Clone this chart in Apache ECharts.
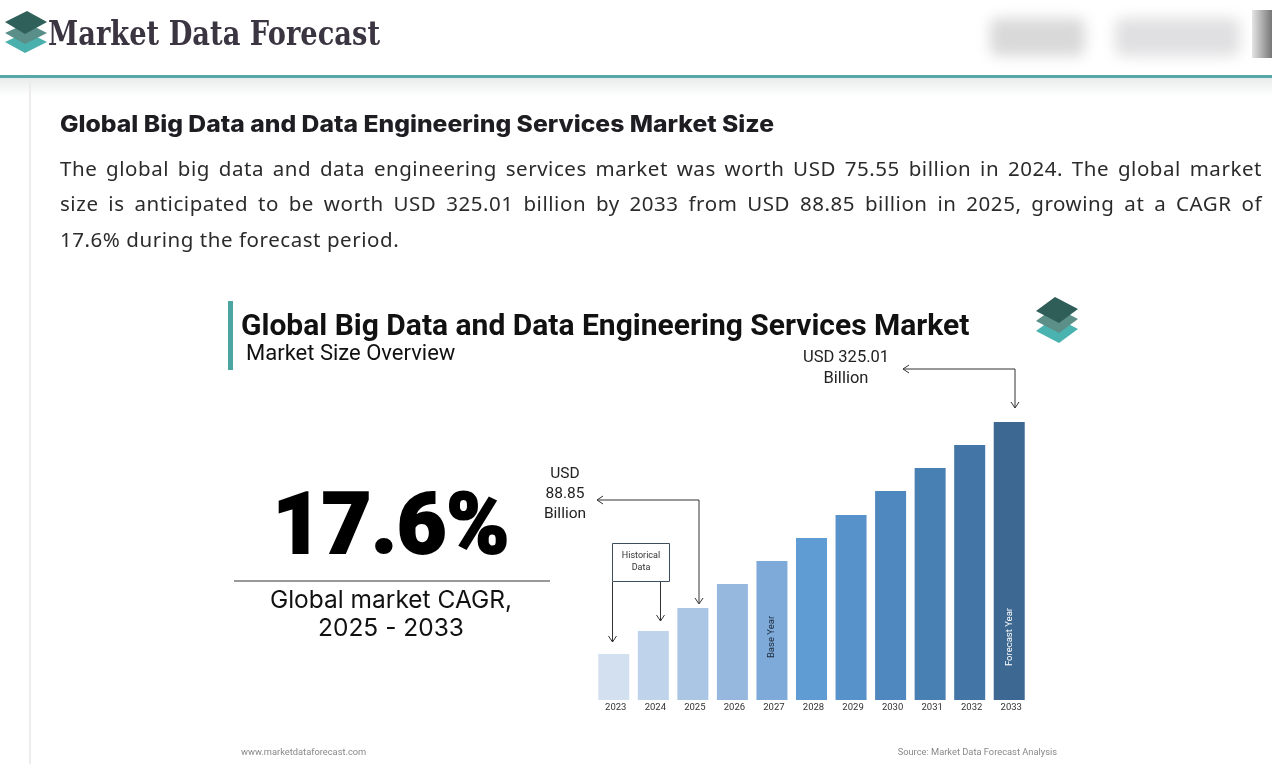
<!DOCTYPE html>
<html>
<head>
<meta charset="utf-8">
<title>Global Big Data and Data Engineering Services Market Size</title>
<script src="https://cdn.jsdelivr.net/npm/echarts@6/dist/echarts.min.js"></script>
<style>
  html, body { margin: 0; padding: 0; background: #fff; }
  body { width: 1272px; height: 764px; position: relative; overflow: hidden; }
  #chart { position: absolute; left: 0; top: 0; width: 1272px; height: 764px; }
  .abs { position: absolute; }
  .fit { transform-origin: 0 50%; white-space: nowrap; }
  #brand { left: 48px; top: 13px; font-family: "DejaVu Serif", serif; font-weight: bold; font-size: 34px; color: #3b3441; }
  #rule { left: 0; top: 75px; width: 1272px; height: 3px; background: #55a7a8; }
  #shade { left: 0; top: 78px; width: 1272px; height: 18px; background: linear-gradient(#e9ebeb, #fff); }
  #side { left: 29px; top: 78px; width: 2px; height: 686px; background: #ececec; }
  .blur { background: #d9d9d9; filter: blur(7px); border-radius: 8px; }
  #heading { left: 60px; top: 110px; font-family: Inter, sans-serif; font-weight: 800; font-size: 22.5px; color: #1d1d22; }
  .para { left: 60px; width: 1202px; font-family: "Noto Sans", sans-serif; font-size: 20.5px; color: #2b2b2b; letter-spacing: 0.55px; white-space: nowrap; }
  .just { text-align: justify; text-align-last: justify; white-space: normal; }
</style>
</head>
<body>
<div id="chart"></div>

<!-- page chrome -->
<svg class="abs" style="left:4px;top:9px" width="44" height="46" viewBox="0 0 44 46">
  <polygon points="1,33 23,23 43,33 21,44" fill="#4ab0ad"/>
  <polygon points="1,24 23,14 43,24 21,35" fill="#5a8e88"/>
  <polygon points="1,13 23,2 43,13 21,25" fill="#2f6059"/>
</svg>
<div id="brand" class="abs fit" data-w="332">Market Data Forecast</div>
<div class="abs blur" style="left:990px;top:18px;width:95px;height:38px"></div>
<div class="abs blur" style="left:1115px;top:18px;width:125px;height:38px;background:#e0e0e2"></div>
<div class="abs" style="left:1252px;top:10px;width:20px;height:48px;background:linear-gradient(90deg,#e5e5e5,#777);"></div>
<div id="rule" class="abs"></div>
<div id="shade" class="abs"></div>
<div id="side" class="abs"></div>

<div id="heading" class="abs fit" data-w="714">Global Big Data and Data Engineering Services Market Size</div>
<div class="abs para just" style="top:154px">The global big data and data engineering services market was worth USD 75.55 billion in 2024. The global market</div>
<div class="abs para just" style="top:189px">size is anticipated to be worth USD 325.01 billion by 2033 from USD 88.85 billion in 2025, growing at a CAGR of</div>
<div class="abs para" style="top:225px">17.6% during the forecast period.</div>

<script>
// years on the x axis
var years = ['2023', '2024', '2025', '2026', '2027', '2028', '2029', '2030', '2031', '2032', '2033'];
// bar heights as drawn in the infographic (stylised, not to scale with the USD figures)
var barHeights = [46, 69, 92, 116, 139, 162, 185, 209, 232, 255, 278];
// bar shades, light to dark
var barColors = ['#d3e0f0', '#bfd3ea', '#abc5e4', '#96b8de', '#7eaad9', '#5f9cd3', '#5892ca', '#4f88bf', '#4980b4', '#4375a6', '#3d6891'];

// texts in the infographic
var titleText = 'Global Big Data and Data Engineering Services Market';
var subtitleText = 'Market Size Overview';
var cagrValue = '17.6%';
var cagrCaption = 'Global market CAGR,\n2025 - 2033';
var note2025 = 'USD\n88.85\nBillion';
var note2033 = 'USD 325.01\nBillion';
var histText = 'Historical\nData';

// stretch single-line page texts to the width they take in the picture
document.querySelectorAll('.fit').forEach(function (el) {
    var w = el.getBoundingClientRect().width;
    el.style.transform = 'scaleX(' + (parseFloat(el.getAttribute('data-w')) / w) + ')';
});

var mychart = echarts.init(document.getElementById('chart'));

var seriesData = barHeights.map(function (v, i) {
    var item = {value: v, itemStyle: {color: barColors[i]}};
    if (years[i] === '2027') {
        item.label = {show: true, formatter: 'Base Year', position: ['50%', 76], rotate: 90,
            align: 'center', verticalAlign: 'middle', color: '#1c2a3a', fontSize: 9.5, fontFamily: 'Roboto'};
    }
    if (years[i] === '2033') {
        item.label = {show: true, formatter: 'Forecast Year', position: ['50%', 215], rotate: 90,
            align: 'center', verticalAlign: 'middle', color: '#ffffff', fontSize: 9.5, fontFamily: 'Roboto'};
    }
    return item;
});

function arrowDown(x, y) {
    return {type: 'polyline', shape: {points: [[x - 4, y - 6], [x, y], [x + 4, y - 6]]},
        style: {stroke: '#333', lineWidth: 1, fill: null}};
}
function arrowLeft(x, y) {
    return {type: 'polyline', shape: {points: [[x + 6, y - 4], [x, y], [x + 6, y + 4]]},
        style: {stroke: '#333', lineWidth: 1, fill: null}};
}
function diamond(cx, cy, color) {
    return {type: 'polygon', shape: {points: [[cx - 21, cy + 1], [cx - 2, cy - 13], [cx + 21, cy - 1], [cx + 2, cy + 13]]},
        style: {fill: color}};
}
function line(points) {
    return {type: 'polyline', shape: {points: points}, style: {stroke: '#333', lineWidth: 1, fill: null}};
}

var option = {
    animation: false,
    backgroundColor: 'transparent',
    grid: {left: 594, right: 243, top: 422, bottom: 64},
    xAxis: {
        type: 'category',
        data: years,
        axisLine: {show: false},
        axisTick: {show: false},
        axisLabel: {color: '#333', fontSize: 9.5, fontFamily: 'Roboto', margin: 3, padding: [0, 0, 0, 4]}
    },
    yAxis: {type: 'value', min: 0, max: 278, show: false, splitLine: {show: false}},
    series: [{
        type: 'bar',
        barWidth: 31,
        data: seriesData
    }],
    graphic: [
        // title block
        {type: 'rect', shape: {x: 228, y: 301, width: 5, height: 69}, style: {fill: '#4ba6a1'}},
        {type: 'text', style: {text: titleText, x: 241, y: 327, textVerticalAlign: 'middle',
            font: 'bold 30px Roboto', fill: '#111'}},
        {type: 'text', style: {text: subtitleText, x: 246, y: 354, textVerticalAlign: 'middle',
            font: '22px Roboto', fill: '#111'}},
        diamond(1057, 330, '#4ab3b0'),
        diamond(1057, 320, '#5d8f89'),
        diamond(1057, 310, '#2f5d58'),
        // CAGR block
        {type: 'text', style: {text: cagrValue, x: 391, y: 532, textAlign: 'center', textVerticalAlign: 'middle',
            font: '900 85px Roboto', fill: '#000', stroke: '#000', lineWidth: 2}},
        line([[234, 581], [550, 581]]),
        {type: 'text', style: {text: cagrCaption, x: 391, y: 615, textAlign: 'center', textVerticalAlign: 'middle',
            font: '24.5px Inter', lineHeight: 28, fill: '#111'}},
        // 2025 note
        {type: 'text', style: {text: note2025, x: 565, y: 494, textAlign: 'center', textVerticalAlign: 'middle',
            font: '15.5px Roboto', lineHeight: 20, fill: '#222'}},
        line([[699, 603], [699, 500], [597, 500]]),
        arrowDown(699, 604),
        arrowLeft(597, 500),
        // historical data box
        {type: 'rect', shape: {x: 612.5, y: 543.5, width: 57, height: 38}, style: {fill: '#fff', stroke: '#3d4d5c', lineWidth: 1}},
        {type: 'text', style: {text: histText, x: 641, y: 562, textAlign: 'center', textVerticalAlign: 'middle',
            font: '9px Roboto', lineHeight: 12, fill: '#333'}},
        line([[612.5, 582], [612.5, 642]]),
        arrowDown(612.5, 642),
        line([[660.5, 582], [660.5, 621]]),
        arrowDown(660.5, 621),
        // 2033 note
        {type: 'text', style: {text: note2033, x: 846, y: 368, textAlign: 'center', textVerticalAlign: 'middle',
            font: '16.5px Roboto', lineHeight: 21, fill: '#222'}},
        line([[1015, 408], [1015, 369], [903, 369]]),
        arrowDown(1015, 408),
        arrowLeft(903, 369),
        // footer
        {type: 'text', style: {text: 'www.marketdataforecast.com', x: 241, y: 753, textVerticalAlign: 'middle',
            font: '9.3px Roboto', fill: '#888'}},
        {type: 'text', style: {text: 'Source: Market Data Forecast Analysis', x: 1057, y: 753, textAlign: 'right', textVerticalAlign: 'middle',
            font: '9.3px Roboto', fill: '#888'}}
    ]
};

mychart.setOption(option);
</script>
</body>
</html>
